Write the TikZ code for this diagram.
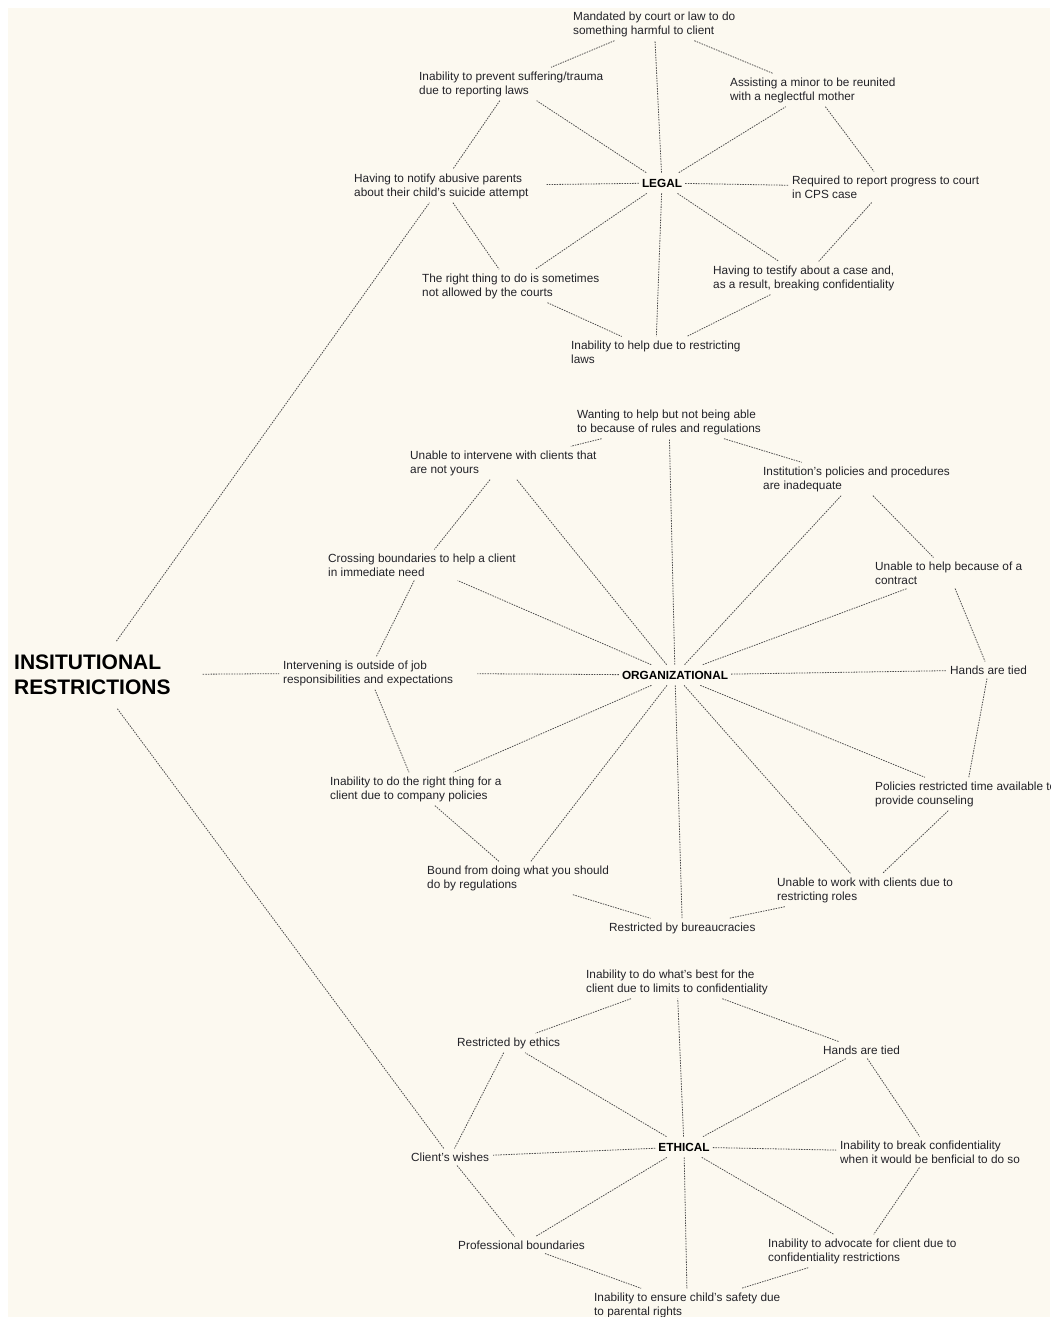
\documentclass[tikz,border=0pt]{standalone}
\usepackage{fontspec}
\setmainfont{Liberation Sans}
\definecolor{paper}{RGB}{252,249,240}
\definecolor{ink}{RGB}{34,34,40}
\definecolor{lnk}{RGB}{78,78,78}
\begin{document}
\begin{tikzpicture}[x=1pt,y=-1pt,
  lbl/.style={font=\fontsize{11.8}{14}\selectfont, text=ink, align=left, anchor=west, inner xsep=4pt, inner ysep=4pt},
  hub/.style={font=\bfseries\fontsize{11.8}{14}\selectfont, text=black, inner xsep=3pt, inner ysep=6pt},
  headline/.style={font=\bfseries\fontsize{21}{25}\selectfont, text=black, align=left, anchor=west, inner sep=4pt},
  link/.style={draw=lnk, line width=0.8pt, dash pattern=on 1.5pt off 1.1pt}]
\useasboundingbox (0,0) rectangle (1050,1317);
\fill[white] (0,0) rectangle (1050,1317);
\fill[paper] (8,8) rectangle (1050,1317);

% root
\node[headline] (T) at (10,675) {INSITUTIONAL\\RESTRICTIONS};

% legal cluster
\node[hub] (HL) at (662,183) {LEGAL};
\node[lbl] (L1) at (569,24) {Mandated by court or law to do\\something harmful to client};
\node[lbl] (L2) at (415,84) {Inability to prevent suffering/trauma\\due to reporting laws};
\node[lbl] (L3) at (726,90) {Assisting a minor to be reunited\\with a neglectful mother};
\node[lbl] (L4) at (350,186) {Having to notify abusive parents\\about their child's suicide attempt};
\node[lbl] (L5) at (788,187) {Required to report progress to court\\in CPS case};
\node[lbl] (L6) at (418,286) {The right thing to do is sometimes\\not allowed by the courts};
\node[lbl] (L7) at (709,278) {Having to testify about a case and,\\as a result, breaking confidentiality};
\node[lbl] (L8) at (567,352) {Inability to help due to restricting\\laws};

% organizational cluster
\node[hub] (HO) at (675,675) {ORGANIZATIONAL};
\node[lbl] (O1) at (573,422) {Wanting to help but not being able\\to because of rules and regulations};
\node[lbl] (O2) at (406,463) {Unable to intervene with clients that\\are not yours};
\node[lbl] (O3) at (759,479) {Institution's policies and procedures\\are inadequate};
\node[lbl] (O4) at (324,565) {Crossing boundaries to help a client\\in immediate need};
\node[lbl] (O5) at (871,573) {Unable to help because of a\\contract};
\node[lbl] (O6) at (279,673) {Intervening is outside of job\\responsibilities and expectations};
\node[lbl] (O7) at (946,670) {Hands are tied};
\node[lbl] (O8) at (326,789) {Inability to do the right thing for a\\client due to company policies};
\node[lbl] (O9) at (871,794) {Policies restricted time available to\\provide counseling};
\node[lbl] (O10) at (423,878) {Bound from doing what you should\\do by regulations};
\node[lbl] (O11) at (773,890) {Unable to work with clients due to\\restricting roles};
\node[lbl] (O12) at (605,928) {Restricted by bureaucracies};

% ethical cluster
\node[hub] (HE) at (684,1147) {ETHICAL};
\node[lbl] (E1) at (582,982) {Inability to do what's best for the\\client due to limits to confidentiality};
\node[lbl] (E2) at (453,1043) {Restricted by ethics};
\node[lbl] (E3) at (819,1050) {Hands are tied};
\node[lbl] (E4) at (407,1157) {Client's wishes};
\node[lbl] (E5) at (836,1152) {Inability to break confidentiality\\when it would be benficial to do so};
\node[lbl] (E6) at (454,1245) {Professional boundaries};
\node[lbl] (E7) at (764,1251) {Inability to advocate for client due to\\confidentiality restrictions};
\node[lbl] (E8) at (590,1305) {Inability to ensure child's safety due\\to parental rights};

% root branches
\draw[link, shorten <=12pt] (T) -- (L4);
\draw[link, shorten <=28pt] (T) -- (O6);
\draw[link, shorten <=12pt] (T) -- (E4);

% spokes
\foreach \n in {L1,L2,L3,L5,L6,L7,L8} \draw[link] (HL) -- (\n);
\draw[link, shorten >=14pt] (HL) -- (L4);
\foreach \n in {O1,O2,O3,O4,O5,O7,O8,O9,O10,O11,O12} \draw[link] (HO) -- (\n);
\draw[link, shorten >=20pt] (HO) -- (O6);
\foreach \n in {E1,E2,E3,E4,E5,E6,E7,E8} \draw[link] (HE) -- (\n);

% rims
\foreach \a/\b in {L1/L2,L1/L3,L2/L4,L3/L5,L4/L6,L5/L7,L6/L8,L7/L8} \draw[link] (\a) -- (\b);
\foreach \a/\b in {O1/O2,O1/O3,O2/O4,O3/O5,O4/O6,O5/O7,O6/O8,O7/O9,O8/O10,O9/O11,O10/O12,O11/O12} \draw[link] (\a) -- (\b);
\foreach \a/\b in {E1/E2,E1/E3,E2/E4,E3/E5,E4/E6,E5/E7,E6/E8,E7/E8} \draw[link] (\a) -- (\b);
\end{tikzpicture}
\end{document}
